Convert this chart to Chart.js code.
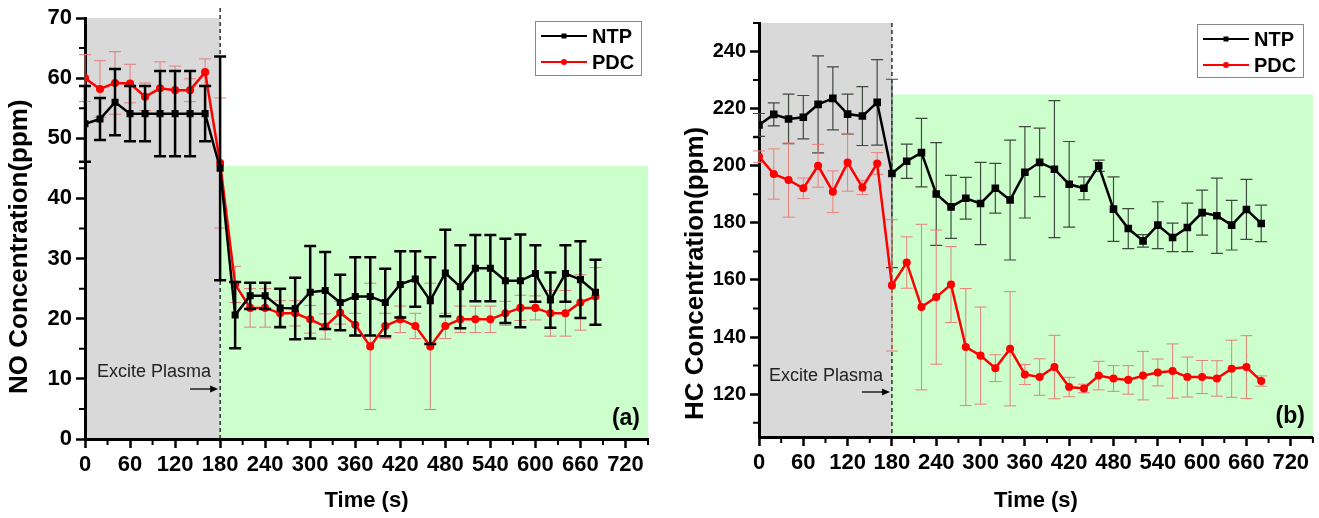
<!DOCTYPE html>
<html>
<head>
<meta charset="utf-8">
<script src="https://cdn.jsdelivr.net/npm/chart.js@4.4.0/dist/chart.umd.min.js"></script>
<style>
  body { margin: 0; background: #fff; }
  .wrap { position: absolute; top: 0; }
</style>
</head>
<body>
<div class="wrap" style="left:0"><canvas id="chartNO" width="660" height="518"></canvas></div>
<div class="wrap" style="left:660px"><canvas id="chartHC" width="659" height="518"></canvas></div>
<script>
// sampling times (s)
const time = [0, 20, 40, 60, 80, 100, 120, 140, 160, 180, 200, 220, 240, 260, 280, 300, 320, 340,
  360, 380, 400, 420, 440, 460, 480, 500, 520, 540, 560, 580, 600, 620, 640, 660, 680];
const xTicks = [0, 60, 120, 180, 240, 300, 360, 420, 480, 540, 600, 660, 720];
const noTicks = [0, 10, 20, 30, 40, 50, 60, 70];
const hcTicks = [120, 140, 160, 180, 200, 220, 240];

// (a) NO concentration, ppm
const noNTP = [52.4, 53.2, 56.0, 54.1, 54.1, 54.1, 54.1, 54.1, 54.1, 45.0,
  20.6, 23.8, 23.8, 21.8, 21.7, 24.4, 24.7, 22.7, 23.7, 23.7,
  22.7, 25.7, 26.6, 23.0, 27.6, 25.3, 28.4, 28.4, 26.3, 26.3,
  27.5, 23.1, 27.5, 26.5, 24.4];
const noNTPErr = [6.3, 3.5, 5.5, 4.6, 4.6, 7.1, 7.1, 7.1, 4.6, 18.6,
  5.5, 2.2, 2.2, 3.2, 5.1, 7.7, 6.4, 4.6, 6.5, 6.5,
  5.6, 5.5, 4.6, 7.2, 7.2, 6.9, 5.5, 5.5, 7.0, 7.7,
  4.7, 4.6, 4.7, 6.4, 5.4];
const noPDC = [60.0, 58.2, 59.2, 59.1, 56.9, 58.3, 58.0, 58.0, 61.0, 45.9,
  25.7, 21.8, 21.8, 20.9, 20.9, 19.9, 18.7, 21.0, 19.0, 15.4,
  18.8, 19.9, 18.8, 15.4, 18.8, 19.9, 19.9, 19.9, 20.9, 21.8,
  21.8, 20.9, 20.9, 22.7, 23.7];
const noPDCErr = [3.9, 4.7, 5.2, 3.2, 2.3, 4.4, 4.0, 1.9, 2.2, 10.8,
  3.0, 3.2, 3.2, 2.1, 2.1, 2.3, 2.1, 1.9, 1.9, 10.5,
  2.1, 2.2, 2.1, 10.5, 2.1, 2.2, 2.2, 2.2, 2.0, 2.1,
  2.0, 3.8, 3.8, 4.6, 4.8];

// (b) HC concentration, ppm
const hcNTP = [214.3, 218.0, 216.4, 217.0, 221.5, 223.6, 218.1, 217.4, 222.2, 197.3,
  201.6, 204.6, 190.1, 185.6, 188.6, 186.8, 192.1, 188.0, 197.7, 201.2,
  198.8, 193.5, 192.1, 200.0, 184.8, 178.0, 173.7, 179.2, 174.9, 178.4,
  183.6, 182.5, 179.2, 184.7, 179.8];
const hcNTPErr = [4, 4, 8.7, 7.6, 17, 11, 7, 10.3, 15, 33,
  6, 12, 18, 11, 7.3, 14.4, 8.7, 21, 16, 12,
  24, 15, 4, 2, 11.3, 7, 2.2, 8.2, 5, 8.5,
  7.9, 13.2, 8.7, 10.5, 6.4];
const hcPDC = [203.2, 197.1, 195.0, 192.1, 200.0, 190.9, 201.1, 192.4, 200.8, 158.1,
  166.1, 150.5, 154.0, 158.4, 136.5, 133.5, 129.1, 135.9, 126.9, 126.0,
  129.5, 122.5, 122.0, 126.5, 125.5, 125.0, 126.5, 127.6, 128.1, 126.0,
  126.0, 125.5, 128.9, 129.5, 124.6];
const hcPDCErr = [2, 8.8, 13, 3.6, 7.5, 7.3, 10, 2.5, 3.8, 23,
  9, 29, 23.5, 13.3, 20.5, 17, 4.7, 20, 3.5, 6.4,
  11.1, 3.4, 1.5, 5, 4.5, 5, 8.5, 4.7, 9.5, 7,
  5.8, 6.2, 10, 11, 1.8];

const FONT = "'Liberation Sans', Arial, sans-serif";

function drawErrors(chart, onTop) {
  const { ctx, chartArea: a, scales: { x, y } } = chart;
  ctx.save();
  ctx.beginPath();
  ctx.rect(a.left - 10, a.top, a.right - a.left + 20, a.bottom - a.top);
  ctx.clip();
  chart.data.datasets.forEach(ds => {
    if (!!ds.errTop !== onTop) return;
    ctx.strokeStyle = ds.errColor;
    ctx.lineWidth = ds.errWidth;
    ds.data.forEach((p, i) => {
      const e = ds.errors[i];
      const px = x.getPixelForValue(p.x);
      const yt = y.getPixelForValue(p.y + e), yb = y.getPixelForValue(p.y - e);
      const c = ds.errCap;
      ctx.beginPath();
      ctx.moveTo(px, yt); ctx.lineTo(px, yb);
      ctx.moveTo(px - c, yt); ctx.lineTo(px + c, yt);
      ctx.moveTo(px - c, yb); ctx.lineTo(px + c, yb);
      ctx.stroke();
    });
  });
  ctx.restore();
}

const deco = {
  id: 'deco',
  beforeDraw(chart, args, o) {
    const { ctx, chartArea: a, scales: { x, y } } = chart;
    const x0 = x.getPixelForValue(0), x1 = x.getPixelForValue(o.split);
    ctx.save();
    ctx.fillStyle = '#d9d9d9';
    ctx.fillRect(x0, a.top, x1 - x0, a.bottom - a.top);
    const gy = y.getPixelForValue(o.greenTop);
    ctx.fillStyle = '#ccffcc';
    ctx.fillRect(x1, gy, a.right - x1, a.bottom - gy);
    ctx.restore();
  },
  beforeDatasetsDraw(chart, args, o) {
    const { ctx, chartArea: a, scales: { x } } = chart;
    const x1 = x.getPixelForValue(o.split);
    ctx.save();
    ctx.strokeStyle = '#000';
    ctx.lineWidth = 1.2;
    ctx.setLineDash([4, 3]);
    ctx.beginPath();
    ctx.moveTo(x1, o.dashTop); ctx.lineTo(x1, a.bottom);
    ctx.stroke();
    ctx.restore();
    drawErrors(chart, false);
  },
  afterDatasetsDraw(chart) {
    drawErrors(chart, true);
  },
  afterDraw(chart, args, o) {
    const { ctx, chartArea: a, scales: { x, y } } = chart;
    ctx.save();
    // minor ticks
    ctx.strokeStyle = '#000';
    ctx.lineWidth = 2;
    ctx.beginPath();
    for (let v = 30; v <= x.max; v += 60) {
      const px = x.getPixelForValue(v);
      ctx.moveTo(px, a.bottom); ctx.lineTo(px, a.bottom + 6);
    }
    for (let v = o.minorStart; v <= y.max; v += o.minorStep) {
      const py = y.getPixelForValue(v);
      ctx.moveTo(a.left, py); ctx.lineTo(a.left - 6, py);
    }
    ctx.stroke();

    // y title
    ctx.fillStyle = '#000';
    ctx.font = 'bold 26px ' + FONT;
    ctx.translate(o.yTitle.x, o.yTitle.y);
    ctx.rotate(-Math.PI / 2);
    ctx.textAlign = 'left';
    ctx.textBaseline = 'middle';
    ctx.fillText(o.yTitle.text, 0, 0);
    ctx.setTransform(1, 0, 0, 1, 0, 0);

    // annotation
    const x1 = x.getPixelForValue(o.split);
    ctx.font = '18px ' + FONT;
    ctx.fillStyle = '#222';
    ctx.textAlign = 'right';
    ctx.textBaseline = 'alphabetic';
    ctx.fillText('Excite Plasma', x1 - 9, a.bottom - o.noteDy);
    const ay = a.bottom - o.arrowDy;
    ctx.strokeStyle = '#000';
    ctx.lineWidth = 1.3;
    ctx.beginPath();
    ctx.moveTo(x1 - 30, ay); ctx.lineTo(x1 - 8, ay);
    ctx.stroke();
    ctx.beginPath();
    ctx.moveTo(x1 - 2, ay); ctx.lineTo(x1 - 10, ay - 3.5); ctx.lineTo(x1 - 10, ay + 3.5);
    ctx.closePath(); ctx.fillStyle = '#000'; ctx.fill();

    // panel tag
    ctx.font = 'bold 23px ' + FONT;
    ctx.textAlign = 'right';
    ctx.fillText(o.tag, a.right - 8, a.bottom - 14);

    // legend
    const L = o.legend;
    ctx.strokeStyle = '#888';
    ctx.lineWidth = 1;
    ctx.strokeRect(L.x + 0.5, L.y + 0.5, L.w, L.h);
    chart.data.datasets.forEach((ds, i) => {
      const ly = L.y + L.rows[i];
      ctx.strokeStyle = ds.borderColor;
      ctx.lineWidth = 2;
      ctx.beginPath();
      ctx.moveTo(L.x + 6, ly); ctx.lineTo(L.x + 6 + L.line, ly);
      ctx.stroke();
      const mx = L.x + 6 + L.line / 2;
      ctx.fillStyle = ds.borderColor;
      if (ds.pointStyle === 'rect') ctx.fillRect(mx - 2.5, ly - 2.5, 5, 5);
      else { ctx.beginPath(); ctx.arc(mx, ly, 3, 0, Math.PI * 2); ctx.fill(); }
      ctx.fillStyle = '#000';
      ctx.font = 'bold 20px ' + FONT;
      ctx.textAlign = 'left';
      ctx.textBaseline = 'middle';
      ctx.fillText(ds.label, L.x + L.line + 11, ly + 1);
    });
    ctx.restore();
  }
};

function makeChart(id, c) {
  return new Chart(document.getElementById(id), {
    type: 'line',
    data: {
      datasets: [{
        label: 'NTP',
        data: time.map((t, i) => ({ x: t, y: c.ntp[i] })),
        errors: c.ntpErr,
        errColor: c.ntpErrColor, errWidth: c.ntpErrWidth, errCap: 6, errTop: c.ntpErrTop,
        borderColor: '#000', backgroundColor: '#000',
        borderWidth: 2.5, pointStyle: 'rect', pointRadius: c.sq, pointHoverRadius: c.sq
      }, {
        label: 'PDC',
        data: time.map((t, i) => ({ x: t, y: c.pdc[i] })),
        errors: c.pdcErr,
        errColor: c.pdcErrColor, errWidth: 1, errCap: 6, errTop: false,
        borderColor: '#ff0000', backgroundColor: '#ff0000',
        borderWidth: 2.5, pointStyle: 'circle', pointRadius: 2.8, pointHoverRadius: 2.8
      }]
    },
    options: {
      responsive: false,
      animation: false,
      devicePixelRatio: 1,
      layout: { padding: c.padding },
      plugins: {
        legend: { display: false },
        tooltip: { enabled: false },
        deco: c.deco
      },
      scales: {
        x: {
          type: 'linear', min: 0, max: 750,
          border: { color: '#000', width: 3 },
          grid: { drawOnChartArea: false, tickLength: 9, tickWidth: 2.5, tickColor: '#000' },
          ticks: { autoSkip: false, maxRotation: 0, padding: 4, color: '#000',
            font: { family: FONT, size: 22, weight: 'bold' } },
          title: { display: true, text: 'Time (s)', color: '#000', padding: { top: 4, bottom: 4 },
            font: { family: FONT, size: 22, weight: 'bold' } },
          afterBuildTicks: s => { s.ticks = xTicks.map(v => ({ value: v })); },
          afterFit: s => { s.height = c.xHeight; }
        },
        y: {
          min: c.yMin, max: c.yMax,
          border: { color: '#000', width: 3 },
          grid: { drawOnChartArea: false, tickLength: 9, tickWidth: 2.5, tickColor: '#000' },
          ticks: { padding: 4, color: '#000',
            font: { family: FONT, size: c.yFont, weight: 'bold' } },
          afterBuildTicks: s => { s.ticks = c.yTicks.map(v => ({ value: v })); },
          afterFit: s => { s.width = c.yWidth; }
        }
      }
    },
    plugins: [deco]
  });
}

makeChart('chartNO', {
  ntp: noNTP, ntpErr: noNTPErr, pdc: noPDC, pdcErr: noPDCErr,
  ntpErrColor: '#000', ntpErrWidth: 2.5, ntpErrTop: true, pdcErrColor: '#e27d7d',
  sq: 3.2, yMin: 0, yMax: 70, yTicks: noTicks, yFont: 22,
  padding: { left: 0, top: 18, right: 12, bottom: 0 }, yWidth: 85, xHeight: 79,
  deco: {
    split: 180, greenTop: 45.4, dashTop: 8, minorStart: 5, minorStep: 10,
    yTitle: { text: 'NO Concentration(ppm)', x: 20, y: 394 },
    noteDy: 62, arrowDy: 50, tag: '(a)',
    legend: { x: 535, y: 21, w: 106, h: 54, line: 46, rows: [15, 41] }
  }
});

makeChart('chartHC', {
  ntp: hcNTP, ntpErr: hcNTPErr, pdc: hcPDC, pdcErr: hcPDCErr,
  ntpErrColor: '#3f4a3f', ntpErrWidth: 1.2, ntpErrTop: false, pdcErrColor: '#e8807a',
  sq: 3.6, yMin: 105, yMax: 250, yTicks: hcTicks, yFont: 20,
  padding: { left: 25, top: 23, right: 6, bottom: 0 }, yWidth: 74, xHeight: 81,
  deco: {
    split: 180, greenTop: 225, dashTop: 23, minorStart: 110, minorStep: 20,
    yTitle: { text: 'HC Concentration(ppm)', x: 36, y: 420 },
    noteDy: 56, arrowDy: 45, tag: '(b)',
    legend: { x: 537, y: 24, w: 106, h: 53, line: 46, rows: [15, 41] }
  }
});
</script>
</body>
</html>
